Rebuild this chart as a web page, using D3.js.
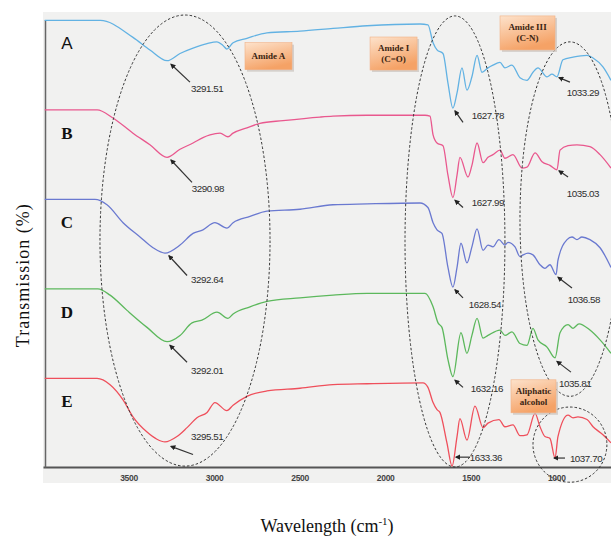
<!DOCTYPE html>
<html>
<head>
<meta charset="utf-8">
<script src="https://cdn.jsdelivr.net/npm/d3@7"></script>
<style>
  body { margin: 0; background: #fff; }
  svg { display: block; }
</style>
</head>
<body>
<svg id="chart" width="611" height="537"></svg>
<script>
// FTIR spectra A-E. wavenumber in cm-1, transmission in % (stacked by 100 each)
var seriesNames = ["A", "B", "C", "D", "E"];
var seriesOffsets = [400, 300, 200, 100, 0];
var seriesColors = ["#62b2e3", "#e9588e", "#6a79d0", "#5cb85c", "#ef4f5b"];

var waveA = [3990,3665,3474,3375,3275,3199,3123,3041,2983,2948,2925,2889,2808,2691,2498,2305,2106,1796,1750,1720,1697,1662,1633,1604,1580,1551,1522,1493,1463,1434,1399,1370,1329,1300,1259,1212,1171,1136,1107,1054,1025,996,961,902,820,785,727,680];
var transA = [99,99,80,66,54,62,68,73,75,71,67,74,79,85,87,90,93,95,94,74,66,62,29,1,18,46,21,36,60,41,46,49,52,46,49,35,32,41,46,36,39,36,55,58,60,57,47,32];

var waveB = [3990,3684,3591,3474,3375,3275,3199,3123,3065,3024,2965,2919,2889,2808,2732,2597,2381,2305,2106,1767,1738,1720,1697,1662,1633,1604,1580,1563,1516,1493,1463,1428,1399,1370,1329,1300,1253,1200,1171,1124,1083,1037,996,978,931,879,803,744,680];
var transB = [99,99,90,73,60,46,55,62,68,71,73,69,73,79,84,87,91,92,93,93,92,71,62,59,26,1,26,46,24,37,62,40,46,49,54,45,49,34,35,51,41,37,32,54,59,60,58,49,34];

var waveC = [3990,3696,3626,3532,3433,3357,3287,3199,3123,3065,2995,2925,2889,2790,2691,2498,2305,2106,1796,1750,1720,1697,1668,1633,1604,1580,1557,1522,1493,1463,1428,1399,1370,1335,1300,1282,1241,1212,1194,1165,1136,1095,1066,1037,1001,990,937,908,879,850,803,744,680];
var transC = [99,99,93,73,57,45,39,48,61,65,73,67,73,80,86,88,93,94,95,90,73,65,61,23,1,23,50,28,46,66,42,48,46,54,48,51,46,35,37,39,37,26,22,26,15,31,54,57,54,57,54,45,23];

var waveD = [3990,3679,3608,3509,3392,3275,3199,3129,3071,2983,2919,2889,2790,2691,2498,2305,2106,1767,1720,1691,1668,1633,1604,1557,1522,1493,1463,1428,1399,1329,1300,1259,1212,1171,1136,1107,1054,1007,978,931,902,867,803,744,680];
var transD = [99,99,92,75,56,40,47,61,64,73,66,71,79,85,89,92,94,94,79,61,56,20,1,50,27,47,66,44,47,53,47,51,38,36,55,42,34,22,50,59,55,60,53,42,27];

var waveE = [3990,3684,3608,3532,3474,3392,3334,3287,3217,3158,3100,3041,2995,2925,2889,2808,2691,2498,2305,2106,1779,1750,1720,1697,1680,1639,1609,1580,1563,1522,1475,1428,1399,1335,1300,1253,1212,1171,1124,1095,1066,1037,1007,990,931,902,873,820,785,727,680];
var transE = [99,99,92,75,56,39,31,28,34,44,55,61,72,63,69,79,85,88,92,93,94,89,72,64,61,27,1,34,54,30,68,44,49,53,45,47,35,36,60,45,34,32,10,34,58,55,56,53,45,36,27];

var xTicks = [3500, 3000, 2500, 2000, 1500, 1000];

// peak labels: text, label pos, arrow tail, arrow tip (wavenumber, stacked %)
var peakText = ["3291.51","3290.98","3292.64","3292.01","3295.51",
                "1627.78","1627.99","1628.54","1632.16","1633.36",
                "1033.29","1035.03","1036.58","1035.81","1037.70"];
var peakLabelAt = [[3041,423],[3036,311],[3041,210],[3041,108],[3041,34],
                   [1399,393],[1399,295],[1417,182],[1405,88],[1411,11],
                   [844,418],[844,306],[838,187],[890,93],[826,10]];
var peakTail = [[3141,430],[3129,318],[3158,214],[3158,117],[3123,14],
                [1545,385],[1545,290],[1545,189],[1545,89],[1504,11],
                [920,430],[931,324],[908,200],[914,106],[949,10]];
var peakTip = [[3252,450],[3252,343],[3264,236],[3258,136],[3252,23],
               [1592,398],[1592,298],[1592,198],[1592,97],[1586,11],
               [984,435],[984,331],[990,212],[996,118],[1013,10]];

// dashed regions: centre wavenumber, half width, centre %, half height
var regionCentre = [[3170,253],[1592,252],[920,277],[920,25]];
var regionRadius = [[497,252],[292,252],[292,198],[216,42]];

// orange tags
var tagText = [["Amide A"],["Amide I","(C=O)"],["Amide III","(C-N)"],["Aliphatic","alcohol"]];
var tagAt = [[2682,459],[1951,462],[1168,485],[1133,79]];

var spectra = [
  {wave: waveA, trans: transA},
  {wave: waveB, trans: transB},
  {wave: waveC, trans: transC},
  {wave: waveD, trans: transD},
  {wave: waveE, trans: transE}
];

var svg = d3.select("#chart");
var x = d3.scaleLinear().domain([4000, 680]).range([43, 611]);
var y = d3.scaleLinear().domain([0, 500]).range([467, 19.5]);

var defs = svg.append("defs");
var grad = defs.append("linearGradient").attr("id", "tag")
    .attr("x1", 0).attr("y1", 0).attr("x2", 0.4).attr("y2", 1);
grad.append("stop").attr("offset", "0%").attr("stop-color", "#fde2cb");
grad.append("stop").attr("offset", "100%").attr("stop-color", "#f5a266");
defs.append("marker").attr("id", "head")
    .attr("viewBox", "0 0 10 10").attr("refX", 8).attr("refY", 5)
    .attr("markerWidth", 4.5).attr("markerHeight", 4.5)
    .attr("orient", "auto")
  .append("path").attr("d", "M0,0L10,5L0,10z").attr("fill", "#222");

// grey paper of the scanned plot
svg.append("rect")
    .attr("x", x.range()[0]).attr("y", 12)
    .attr("width", x.range()[1] - x.range()[0]).attr("height", 471)
    .attr("fill", "#f1f1f0");

// axes
var xAxis = svg.append("g")
    .attr("transform", "translate(0," + y(0) + ")")
    .call(d3.axisBottom(x).tickValues(xTicks).tickSize(0).tickPadding(8)
        .tickFormat(d3.format("d")));
xAxis.select(".domain").attr("stroke", "#555").attr("stroke-width", 2);
xAxis.selectAll("text")
    .attr("fill", "#444")
    .style("font-family", "'Liberation Sans', sans-serif")
    .style("font-size", "8.5px")
    .style("letter-spacing", "-0.3px")
    .style("font-weight", "bold");

svg.append("g")
    .attr("transform", "translate(" + (x(4000) + 2) + ",0)")
    .call(d3.axisLeft(y).tickValues([]).tickSizeOuter(0))
  .select(".domain").attr("stroke", "#666").attr("stroke-width", 1.5);

// spectra
var line = d3.line()
    .x(function(d) { return x(d[0]); })
    .y(function(d) { return y(d[1]); })
    .curve(d3.curveMonotoneX);

spectra.forEach(function(s, i) {
  var pts = s.wave.map(function(w, j) { return [w, s.trans[j] + seriesOffsets[i]]; });
  svg.append("path")
      .attr("d", line(pts))
      .attr("fill", "none")
      .attr("stroke", seriesColors[i])
      .attr("stroke-width", 1.3);
});

// panel letters
svg.selectAll("text.panel")
    .data(seriesNames)
    .enter().append("text")
    .attr("class", "panel")
    .attr("x", x(3860))
    .attr("y", function(d, i) { return y(seriesOffsets[i] + 73); })
    .attr("text-anchor", "middle")
    .attr("dominant-baseline", "central")
    .style("font-family", function(d) { return d == "A" ? "'Liberation Sans', sans-serif" : "'Liberation Serif', serif"; })
    .style("font-weight", function(d) { return d == "A" ? "normal" : "bold"; })
    .style("font-size", "17px")
    .attr("fill", "#111")
    .text(function(d) { return d; });

// dashed regions
regionCentre.forEach(function(c, i) {
  var r = regionRadius[i];
  svg.append("ellipse")
      .attr("cx", x(c[0]))
      .attr("cy", y(c[1]))
      .attr("rx", Math.abs(x(c[0] - r[0]) - x(c[0])))
      .attr("ry", Math.abs(y(c[1] + r[1]) - y(c[1])))
      .attr("fill", "none")
      .attr("stroke", "#333")
      .attr("stroke-width", 1)
      .attr("stroke-dasharray", "2.5,2");
});

// arrows and peak labels
peakText.forEach(function(t, i) {
  svg.append("line")
      .attr("x1", x(peakTail[i][0])).attr("y1", y(peakTail[i][1]))
      .attr("x2", x(peakTip[i][0])).attr("y2", y(peakTip[i][1]))
      .attr("stroke", "#333").attr("stroke-width", 1.2)
      .attr("marker-end", "url(#head)");
  svg.append("text")
      .attr("x", x(peakLabelAt[i][0]))
      .attr("y", y(peakLabelAt[i][1]))
      .attr("text-anchor", "middle")
      .attr("dominant-baseline", "central")
      .attr("fill", "#2e2e2e")
      .style("font-family", "'Liberation Sans', sans-serif")
      .style("font-size", "9.8px")
      .style("letter-spacing", "-0.45px")
      .text(t);
});

// orange tags
var tagSize = [[47, 27], [47, 33], [55, 34], [45, 33]];
tagText.forEach(function(lines, i) {
  var cx = x(tagAt[i][0]), cy = y(tagAt[i][1]);
  var w = tagSize[i][0], h = tagSize[i][1];
  var g = svg.append("g");
  g.append("rect").attr("x", cx - w / 2 + 2).attr("y", cy - h / 2 + 2)
      .attr("width", w).attr("height", h).attr("fill", "#c9c2bc").attr("opacity", 0.7);
  g.append("rect").attr("x", cx - w / 2).attr("y", cy - h / 2)
      .attr("width", w).attr("height", h)
      .attr("fill", "url(#tag)").attr("stroke", "#f2b185").attr("stroke-width", 0.6);
  lines.forEach(function(l, k) {
    g.append("text")
        .attr("x", cx)
        .attr("y", cy + (k - (lines.length - 1) / 2) * 11)
        .attr("text-anchor", "middle")
        .attr("dominant-baseline", "central")
        .attr("fill", "#3a2412")
        .style("font-family", "'Liberation Serif', serif")
        .style("font-weight", "bold")
        .style("font-size", "9px")
        .text(l);
  });
});

// axis titles
var xt = svg.append("text")
    .attr("x", (x.range()[0] + x.range()[1]) / 2)
    .attr("y", 532)
    .attr("text-anchor", "middle")
    .attr("fill", "#111")
    .style("font-family", "'Liberation Serif', serif")
    .style("font-size", "18px");
xt.append("tspan").text("Wavelength (cm");
xt.append("tspan").attr("dy", -7).style("font-size", "11px").text("-1");
xt.append("tspan").attr("dy", 7).text(")");

svg.append("text")
    .attr("transform", "translate(23," + ((y(0) + y(500)) / 2 + 32) + ") rotate(-90)")
    .attr("text-anchor", "middle")
    .attr("dominant-baseline", "central")
    .attr("fill", "#111")
    .style("font-family", "'Liberation Serif', serif")
    .style("font-size", "18px")
    .style("letter-spacing", "1px")
    .text("Transmission (%)");
</script>
</body>
</html>
